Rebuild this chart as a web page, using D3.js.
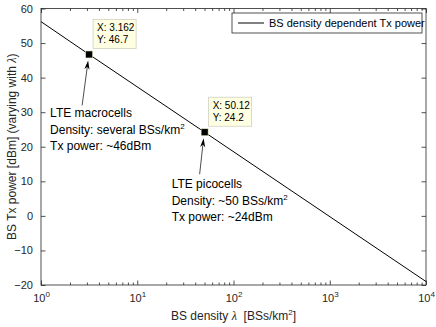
<!DOCTYPE html>
<html>
<head>
<meta charset="utf-8">
<script src="https://cdn.jsdelivr.net/npm/d3@7"></script>
<style>
  body { margin: 0; background: #fff; }
  text { font-family: "Liberation Sans", Arial, sans-serif; }
</style>
</head>
<body>
<div id="vis-container"></div>
<script>
// chart data
const density = [1, 3.162, 50.12, 10000];
const txPower = [56.2, 46.7, 24.2, -19];
const tipX = [3.162, 50.12];
const tipY = [46.7, 24.2];
const tipLabels = [["X: 3.162", "Y: 46.7"], ["X: 50.12", "Y: 24.2"]];
const noteTitles = ["LTE macrocells", "LTE picocells"];
const noteDensity = ["Density: several BSs/km", "Density: ~50 BSs/km"];
const notePower = ["Tx power: ~46dBm", "Tx power: ~24dBm"];
const xTicks = [1, 10, 100, 1000, 10000];
const yTicks = [-20, -10, 0, 10, 20, 30, 40, 50, 60];
const legendLabel = "BS density dependent Tx power";

let width = 436;
let height = 327;
let margin = { left: 41, right: 10, top: 8.5, bottom: 42 };
let iw = width - margin.left - margin.right;
let ih = height - margin.top - margin.bottom;
const axisColor = "#262626";

let svg = d3.select("#vis-container")
  .append("svg")
  .attr("width", width)
  .attr("height", height);

let g = svg.append("g").attr("transform", `translate(${margin.left},${margin.top})`);

let x = d3.scaleLog().domain([1, 10000]).range([0, iw]);
let y = d3.scaleLinear().domain([-20, 60]).range([ih, 0]);

// minor log ticks (2..9 in every decade)
let minorTicks = [];
xTicks.slice(0, -1).forEach(function (d) {
  for (let k = 2; k <= 9; k++) minorTicks.push(d * k);
});

function styleAxis(sel) {
  sel.select(".domain").remove();
  sel.selectAll("line").attr("stroke", axisColor).attr("stroke-width", 0.8);
  sel.selectAll("text").attr("fill", axisColor).style("font-size", "11px")
     .style("font-family", "'Liberation Sans', Arial, sans-serif");
}

// bottom axis
let xAxisG = g.append("g").attr("transform", `translate(0,${ih})`)
  .call(d3.axisBottom(x).tickValues(xTicks).tickSize(-4.5).tickPadding(8).tickFormat(""));
styleAxis(xAxisG);
xAxisG.selectAll(".tick").append("text")
  .attr("y", 17)
  .attr("text-anchor", "middle")
  .attr("fill", axisColor)
  .style("font-size", "11px")
  .each(function (d) {
    let t = d3.select(this);
    t.append("tspan").text("10");
    t.append("tspan").attr("dy", -5).style("font-size", "8px").text(Math.round(Math.log10(d)));
  });
g.append("g").attr("transform", `translate(0,${ih})`)
  .call(d3.axisBottom(x).tickValues(minorTicks).tickSize(-2.5).tickFormat(""))
  .call(styleAxis);

// top axis
g.append("g").call(d3.axisTop(x).tickValues(xTicks).tickSize(-4.5).tickFormat("")).call(styleAxis);
g.append("g").call(d3.axisTop(x).tickValues(minorTicks).tickSize(-2.5).tickFormat("")).call(styleAxis);

// left and right axes
g.append("g").call(d3.axisLeft(y).tickValues(yTicks).tickSize(-4.5).tickPadding(8)).call(styleAxis);
g.append("g").attr("transform", `translate(${iw},0)`)
  .call(d3.axisRight(y).tickValues(yTicks).tickSize(-4.5).tickFormat("")).call(styleAxis);

// frame
g.append("rect")
  .attr("width", iw).attr("height", ih)
  .attr("fill", "none").attr("stroke", axisColor).attr("stroke-width", 0.8);

// line
let line = d3.line().x(function (d, i) { return x(density[i]); }).y(function (d) { return y(d); });
g.append("path")
  .datum(txPower)
  .attr("d", line)
  .attr("fill", "none")
  .attr("stroke", "#000")
  .attr("stroke-width", 1);

// data tips
tipX.forEach(function (d, i) {
  let mx = x(d), my = y(tipY[i]);
  g.append("rect")
    .attr("x", mx - 3.5).attr("y", my - 3.5)
    .attr("width", 7).attr("height", 7)
    .attr("fill", "#000").attr("stroke", "#e8e8c0").attr("stroke-width", 0.6);
  let bx = mx + 4, by = my - 35;
  g.append("rect")
    .attr("x", bx).attr("y", by)
    .attr("width", 43).attr("height", 29)
    .attr("fill", "#ffffe1").attr("stroke", "#d0d0c0").attr("stroke-width", 0.8);
  tipLabels[i].forEach(function (s, j) {
    g.append("text")
      .attr("x", bx + 4).attr("y", by + 12 + j * 12)
      .style("font-size", "10px").attr("fill", "#000")
      .text(s);
  });

  // annotation arrow
  let tail = i === 0 ? [mx - 7, my + 51] : [mx - 5, my + 42];
  let tip = [mx - 1, my + 6];
  let ang = Math.atan2(tip[1] - tail[1], tip[0] - tail[0]);
  let hl = 9, hw = 2.6;
  g.append("line")
    .attr("x1", tail[0]).attr("y1", tail[1])
    .attr("x2", tip[0] - Math.cos(ang) * hl * 0.6).attr("y2", tip[1] - Math.sin(ang) * hl * 0.6)
    .attr("stroke", "#000").attr("stroke-width", 0.7);
  let bxh = tip[0] - Math.cos(ang) * hl, byh = tip[1] - Math.sin(ang) * hl;
  g.append("path")
    .attr("d", `M${tip[0]},${tip[1]}L${bxh - Math.sin(ang) * hw},${byh + Math.cos(ang) * hw}` +
      `L${tip[0] - Math.cos(ang) * hl * 0.7},${tip[1] - Math.sin(ang) * hl * 0.7}` +
      `L${bxh + Math.sin(ang) * hw},${byh - Math.cos(ang) * hw}Z`)
    .attr("fill", "#000");

  // annotation text
  let tx = i === 0 ? mx - 39 : mx - 33;
  let ty = i === 0 ? my + 63 : my + 56;
  g.append("text").attr("x", tx).attr("y", ty).style("font-size", "12px").text(noteTitles[i]);
  let dt = g.append("text").attr("x", tx).attr("y", ty + 17).style("font-size", "12px");
  dt.append("tspan").text(noteDensity[i]);
  dt.append("tspan").attr("dy", -5).style("font-size", "8px").text("2");
  g.append("text").attr("x", tx).attr("y", ty + 33).style("font-size", "12px").text(notePower[i]);
});

// legend
let lg = g.append("g").attr("transform", `translate(${iw - 194},4.5)`);
lg.append("rect")
  .attr("width", 190).attr("height", 20)
  .attr("fill", "#fff").attr("stroke", axisColor).attr("stroke-width", 0.8);
lg.append("line")
  .attr("x1", 6).attr("x2", 32).attr("y1", 10).attr("y2", 10)
  .attr("stroke", "#000").attr("stroke-width", 1);
lg.append("text").attr("x", 37).attr("y", 14).style("font-size", "11px").attr("fill", "#000")
  .text(legendLabel);

// axis labels
let xl = svg.append("text")
  .attr("x", margin.left + iw / 2).attr("y", 320)
  .attr("text-anchor", "middle")
  .style("font-size", "12px").attr("fill", axisColor);
xl.append("tspan").text("BS density\u00a0");
xl.append("tspan").style("font-family", "'Liberation Serif', serif").style("font-style", "italic").text("λ");
xl.append("tspan").text("\u00a0\u00a0[BSs/km");
xl.append("tspan").attr("dy", -5).style("font-size", "8px").text("2");
xl.append("tspan").attr("dy", 5).text("]");

let yl = svg.append("text")
  .attr("transform", `translate(16,${margin.top + ih / 2}) rotate(-90)`)
  .attr("text-anchor", "middle")
  .style("font-size", "12px").attr("fill", axisColor);
yl.append("tspan").text("BS Tx power [dBm] (varying with ");
yl.append("tspan").style("font-family", "'Liberation Serif', serif").style("font-style", "italic").text("λ");
yl.append("tspan").text(")");
</script>
</body>
</html>
